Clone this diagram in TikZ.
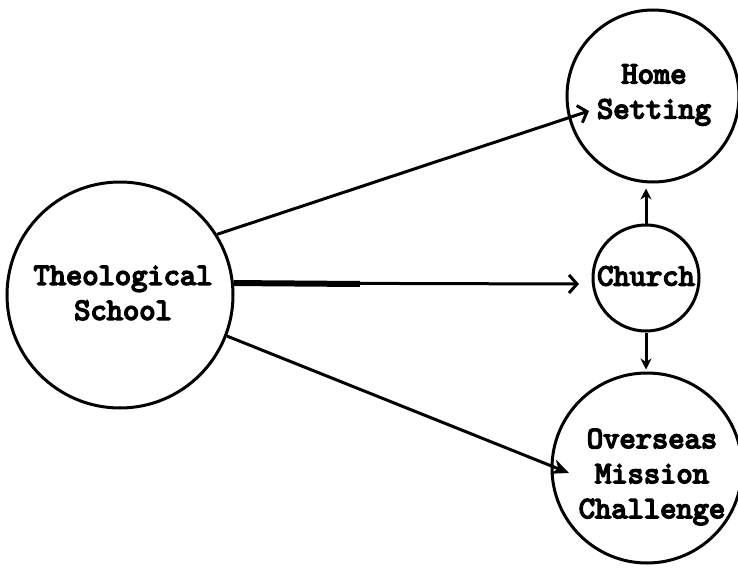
\documentclass[tikz,border=0pt]{standalone}
\usepackage{fontspec}
\newfontfamily\twfont{lmmono10-regular.otf}[FakeBold=5]
\usetikzlibrary{arrows.meta}
\begin{document}
\begin{tikzpicture}[x=1pt,y=-1pt,
  circ/.style={circle,draw,line width=3pt,inner sep=0pt},
  lbl/.style={font=\fontsize{31}{35}\selectfont\twfont,align=center,inner sep=0pt},
  arr/.style={line width=3pt,-{Stealth[length=17pt,width=15pt]}},
  smallarr/.style={line width=3pt,-{Stealth[length=11pt,width=11pt]}},
  barb/.style={line width=3pt,-{Straight Barb[length=8pt,width=18pt,line width=3pt]}}]
\useasboundingbox (0,0) rectangle (738,572);
\node[circ,minimum size=226pt] (theo) at (120,295) {};
\node[circ,minimum size=172pt] (home) at (653,96) {};
\node[circ,minimum size=106pt] (church) at (646,278) {};
\node[circ,minimum size=190pt] (over) at (647,468) {};
\node[lbl] (theot) at (123,293) {Theological\\School};
\node[lbl] (homet) at (654,95) {Home\\Setting};
\node[lbl] (churcht) at (646,276) {Church};
\node[lbl] (overt) at (652,477) {Overseas\\Mission\\Challenge};
\coordinate (hs) at (589,111);
\coordinate (cin) at (579,284);
\coordinate (thick) at (360,284);
\coordinate (oin) at (569,473);
\draw[barb] (theo.32) -- (hs);
\draw[line width=6pt] (theo.6) -- (thick);
\draw[barb] (theo.6) -- (cin);
\draw[arr] (theo.-21) -- (oin);
\draw[smallarr,shorten >=5pt] (church.north) -- (church.north |- home.south);
\draw[smallarr,shorten >=2pt] (church.south) -- (church.south |- over.north);
\end{tikzpicture}
\end{document}
